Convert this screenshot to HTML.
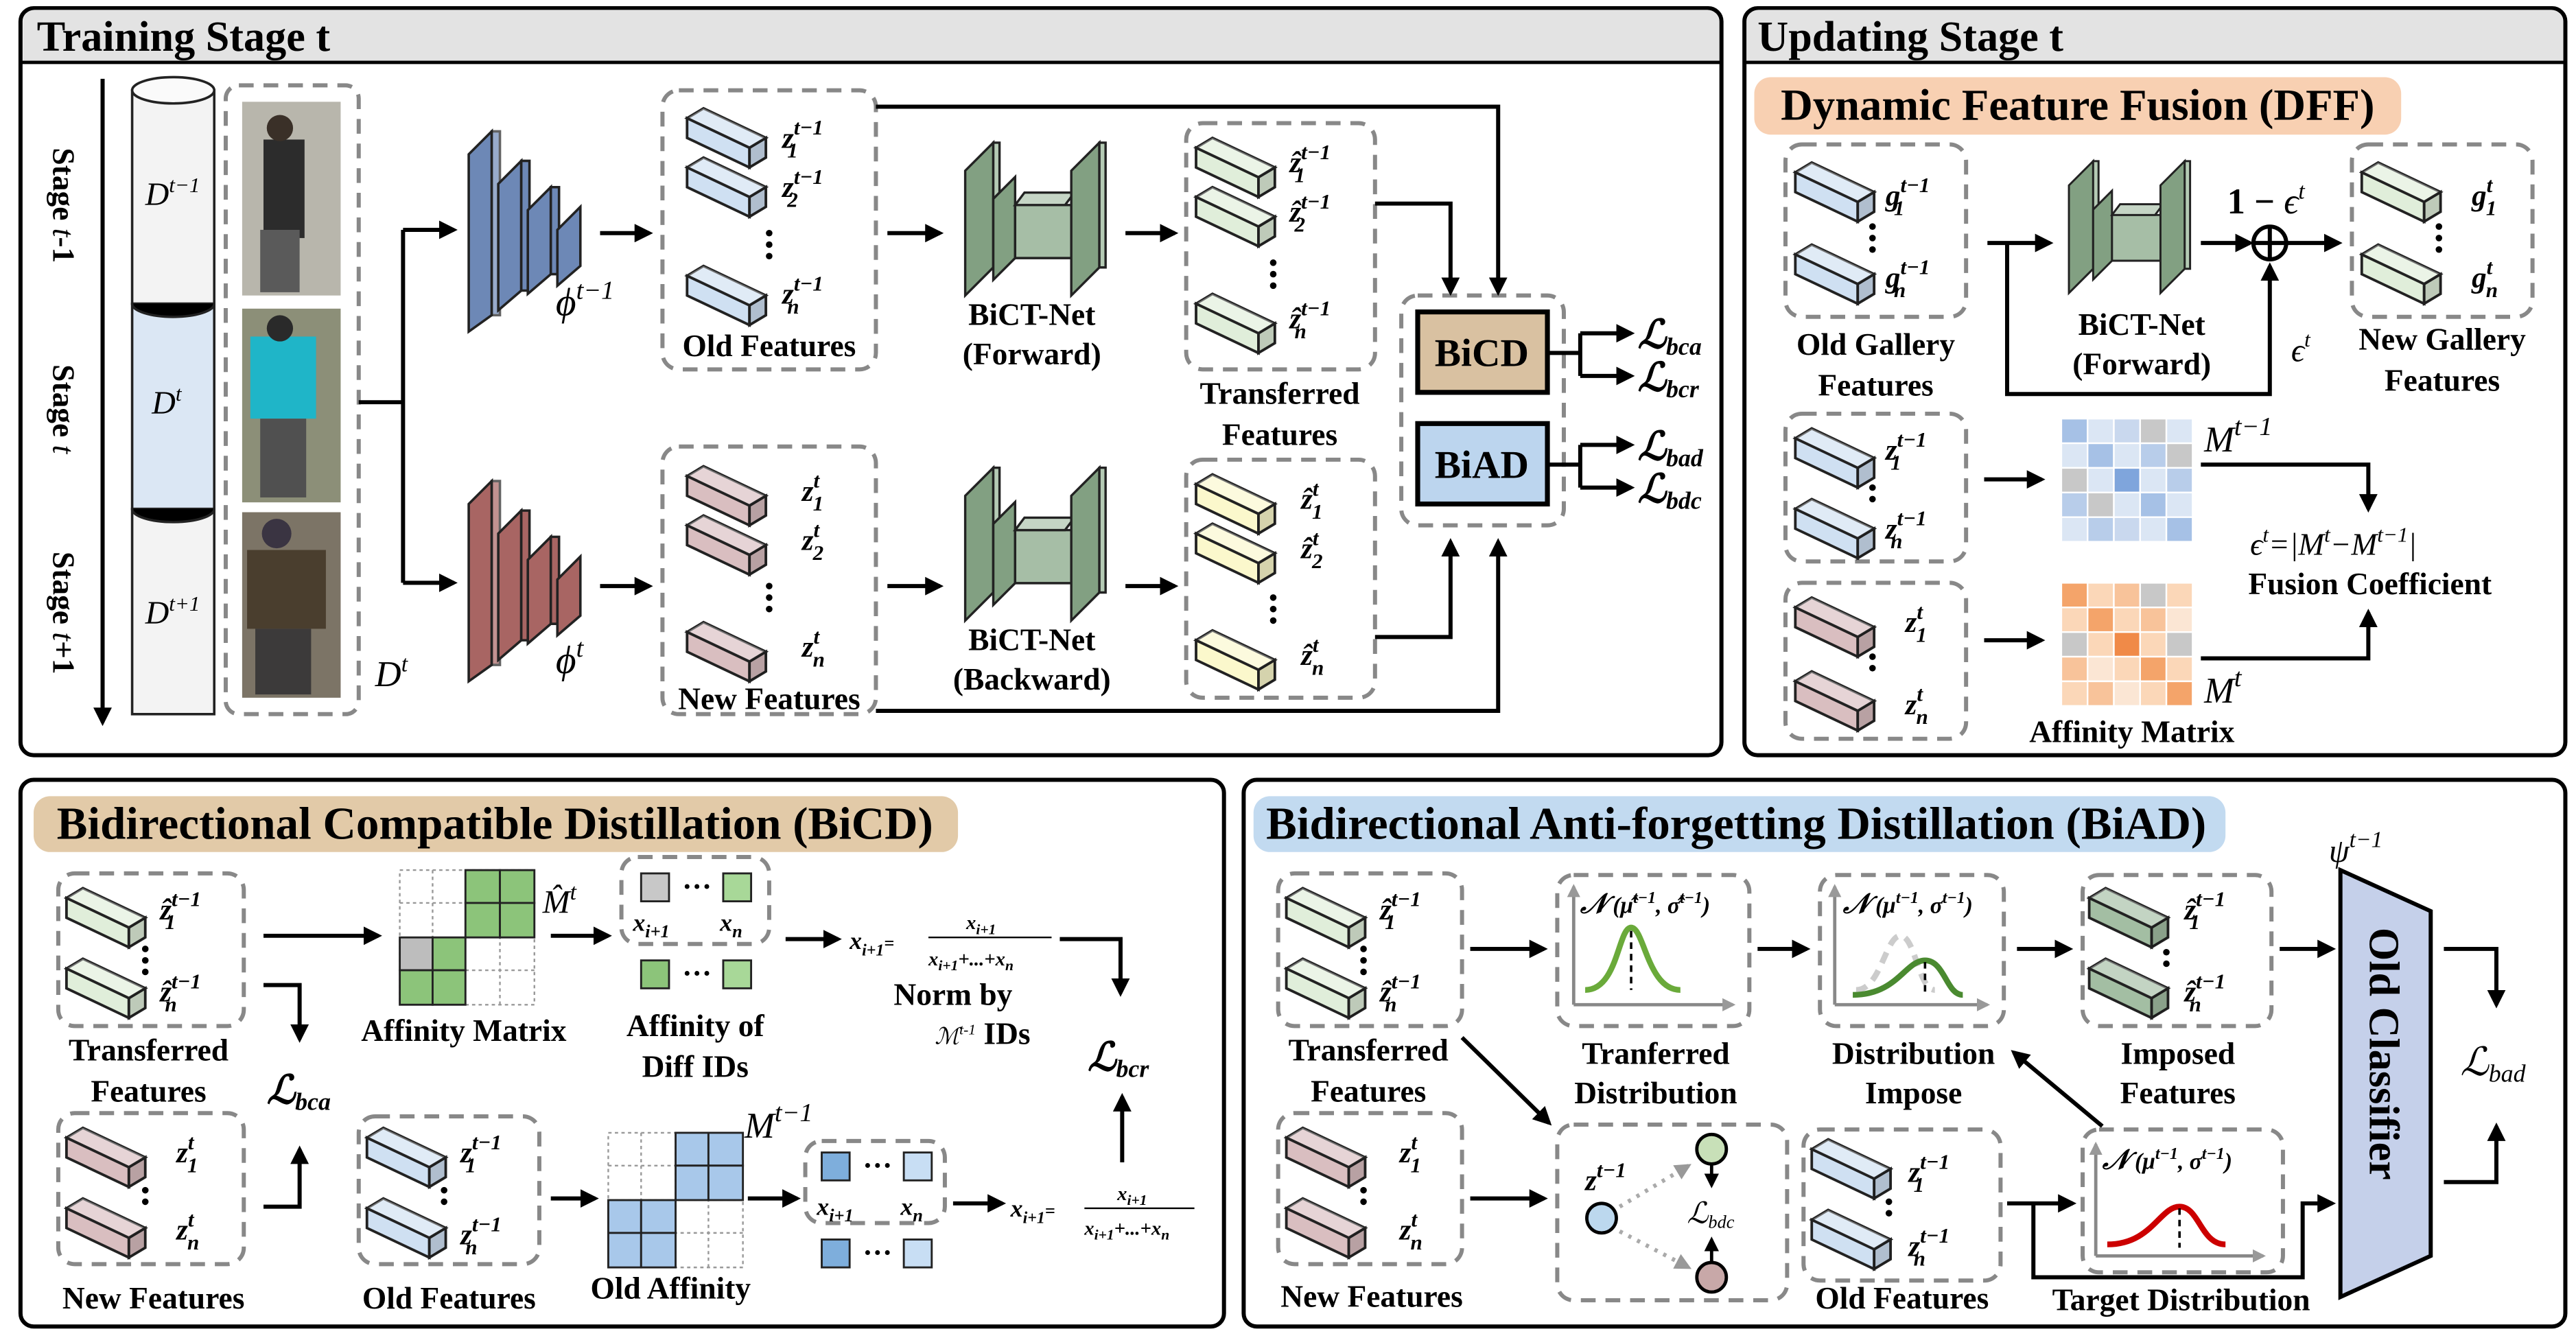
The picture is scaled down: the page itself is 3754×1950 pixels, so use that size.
<!DOCTYPE html>
<html><head><meta charset="utf-8"><style>
html,body{margin:0;padding:0;background:#fff}
svg{display:block}
text{font-family:"Liberation Serif",serif;font-weight:bold;fill:#000}
.m{font-style:italic;font-weight:normal}
.t{font-size:19px}
.h{font-size:25px}
</style></head><body>
<svg width="3754" height="1950" viewBox="0 0 1568 815" xmlns="http://www.w3.org/2000/svg">
<defs>
<marker id="a" viewBox="0 0 10 10" refX="8" refY="5" markerWidth="4.5" markerHeight="4.5" orient="auto"><path d="M0 0L10 5L0 10z" fill="#000"/></marker>
<marker id="g" viewBox="0 0 10 10" refX="8" refY="5" markerWidth="4" markerHeight="4" orient="auto"><path d="M0 0L10 5L0 10z" fill="#999"/></marker>
<symbol id="cb" viewBox="0 0 50 42" overflow="visible">
<path d="M0 10L10 4L48 22L38 28z" fill="currentColor" stroke="#222" stroke-width="1.6"/>
<path d="M0 10L10 4L48 22L38 28z" fill="#fff" opacity=".35"/>
<path d="M0 10L38 28L38 40L0 22z" fill="currentColor" stroke="#222" stroke-width="1.6"/>
<path d="M38 28L48 22L48 34L38 40z" fill="currentColor" stroke="#222" stroke-width="1.6"/>
<path d="M38 28L48 22L48 34L38 40z" fill="#000" opacity=".15"/>
</symbol>
<symbol id="enc" viewBox="0 0 80 130" overflow="visible">
<g stroke="#222" stroke-width="1.5" fill="currentColor">
<path d="M2 22L16 8V120L2 130z"/><path d="M16 8h5V120h-5z" opacity=".7"/>
<path d="M20 40L34 26V105L20 117z"/><path d="M34 26h5V105h-5z"/>
<path d="M38 56L52 42V95L38 107z"/><path d="M52 42h5V95h-5z"/>
<path d="M56 68L70 54V90L56 102z"/>
</g></symbol>
<symbol id="bict" viewBox="0 0 100 100" overflow="visible">
<g stroke="#222" stroke-width="1.5" fill="#82a082">
<path d="M2 20L20 2V82L2 100z"/><path d="M20 2h4V82h-4z" fill="#b5cbb5"/>
<path d="M20 38L34 24V76L20 90z"/>
<path d="M34 42h38v34H34z" fill="#a6bea6"/><path d="M34 42l6-8h32l-6 8z" fill="#c5d5c5"/>
<path d="M70 20L88 2V82L70 100z"/><path d="M88 2h4V82h-4z" fill="#b5cbb5"/>
</g></symbol>
</defs>
<rect width="1568" height="815" fill="#fff"/>

<!-- Panel frames -->
<g stroke="#000" stroke-width="2.5" fill="#fff">
<rect x="12" y="5" width="1036" height="455" rx="8"/>
<rect x="1062" y="5" width="500" height="455" rx="8"/>
<rect x="12" y="475" width="733" height="333" rx="8"/>
<rect x="757" y="475" width="805" height="333" rx="8"/>
</g>
<path d="M13.5 38V13a7 7 0 0 1 7-7H1039.5a7 7 0 0 1 7 7V38z" fill="#e3e3e3"/>
<path d="M1063.5 38V13a7 7 0 0 1 7-7H1553.5a7 7 0 0 1 7 7V38z" fill="#e3e3e3"/>
<line x1="13" y1="38" x2="1047" y2="38" stroke="#000" stroke-width="2"/>
<line x1="1063" y1="38" x2="1561" y2="38" stroke="#000" stroke-width="2"/>
<text x="22" y="31" font-size="26">Training Stage t</text>
<text x="1070" y="31" font-size="26">Updating Stage t</text>

<!-- ===== Training stage ===== -->
<line x1="62" y1="48" x2="62" y2="440" stroke="#000" stroke-width="2.5" marker-end="url(#a)"/>
<text class="t" transform="translate(32,90) rotate(90)">Stage <tspan class="m" font-weight="bold">t</tspan>-1</text>
<text class="t" transform="translate(32,222) rotate(90)">Stage <tspan class="m" font-weight="bold">t</tspan></text>
<text class="t" transform="translate(32,336) rotate(90)">Stage <tspan class="m" font-weight="bold">t</tspan>+1</text>
<g stroke="#222" stroke-width="1.5">
<rect x="80" y="55" width="50" height="130" fill="#f3f3f3"/>
<rect x="80" y="185" width="50" height="125" fill="#dbe7f4"/>
<rect x="80" y="310" width="50" height="125" fill="#f3f3f3"/>
<ellipse cx="105" cy="55" rx="25" ry="8" fill="#fafafa"/>
<path d="M80 185a25 8 0 0 0 50 0M80 310a25 8 0 0 0 50 0"/>
</g>
<text x="88" y="125" class="m" font-size="20">D<tspan font-size="13" dy="-8">t−1</tspan></text>
<text x="92" y="252" class="m" font-size="20">D<tspan font-size="13" dy="-8">t</tspan></text>
<text x="88" y="380" class="m" font-size="20">D<tspan font-size="13" dy="-8">t+1</tspan></text>
<rect x="137" y="52" width="81" height="383" rx="8" fill="none" stroke="#888" stroke-width="2.5" stroke-dasharray="9 6"/>
<rect x="147" y="62" width="60" height="118" fill="#b8b6ac"/><rect x="160" y="85" width="25" height="60" fill="#2c2c2c"/><circle cx="170" cy="78" r="8" fill="#3a3028"/><rect x="158" y="140" width="24" height="38" fill="#5a5a5a"/>
<rect x="147" y="188" width="60" height="118" fill="#8c8f78"/><rect x="152" y="205" width="40" height="50" fill="#1fb5c8"/><circle cx="170" cy="200" r="8" fill="#2a2a2a"/><rect x="158" y="255" width="28" height="48" fill="#505050"/>
<rect x="147" y="312" width="60" height="113" fill="#7c7466"/><rect x="150" y="335" width="48" height="48" fill="#4a3e2e"/><circle cx="168" cy="325" r="9" fill="#3a3442"/><rect x="155" y="383" width="34" height="40" fill="#3c3a3a"/>
<text x="228" y="418" class="m" font-size="22">D<tspan font-size="14" dy="-9">t</tspan></text>

<path d="M218 245H245M245 140V355" stroke="#000" stroke-width="2.5" fill="none"/>
<line x1="245" y1="140" x2="276" y2="140" stroke="#000" stroke-width="2.5" marker-end="url(#a)"/>
<line x1="245" y1="355" x2="276" y2="355" stroke="#000" stroke-width="2.5" marker-end="url(#a)"/>
<use href="#enc" x="283" y="72" width="80" height="130" color="#6d88b6"/>
<use href="#enc" x="283" y="285" width="80" height="130" color="#a86563"/>
<text x="338" y="192" class="m" font-size="24" font-weight="bold">ϕ<tspan font-size="16" dy="-10" font-weight="normal">t−1</tspan></text>
<text x="338" y="410" class="m" font-size="24" font-weight="bold">ϕ<tspan font-size="16" dy="-10" font-weight="normal">t</tspan></text>
<g stroke="#000" stroke-width="2.5" marker-end="url(#a)">
<line x1="365" y1="142" x2="395" y2="142"/><line x1="365" y1="357" x2="395" y2="357"/>
<line x1="540" y1="142" x2="572" y2="142"/><line x1="540" y1="357" x2="572" y2="357"/>
<line x1="685" y1="142" x2="715" y2="142"/><line x1="685" y1="357" x2="715" y2="357"/>
</g>
<g fill="none" stroke="#888" stroke-width="2.5" stroke-dasharray="9 6">
<rect x="403" y="55" width="130" height="170" rx="10"/>
<rect x="403" y="272" width="130" height="163" rx="10"/>
<rect x="722" y="75" width="115" height="150" rx="10"/>
<rect x="722" y="280" width="115" height="145" rx="10"/>
<rect x="853" y="180" width="99" height="140" rx="10"/>
</g>
<g>
<use href="#cb" x="418" y="62" width="50" height="42" color="#cfe0f2"/>
<use href="#cb" x="418" y="92" width="50" height="42" color="#cfe0f2"/>
<use href="#cb" x="418" y="158" width="50" height="42" color="#cfe0f2"/>
<use href="#cb" x="418" y="280" width="50" height="42" color="#d9bec0"/>
<use href="#cb" x="418" y="310" width="50" height="42" color="#d9bec0"/>
<use href="#cb" x="418" y="375" width="50" height="42" color="#d9bec0"/>
<use href="#cb" x="728" y="80" width="50" height="42" color="#e0eeda"/>
<use href="#cb" x="728" y="110" width="50" height="42" color="#e0eeda"/>
<use href="#cb" x="728" y="175" width="50" height="42" color="#e0eeda"/>
<use href="#cb" x="728" y="285" width="50" height="42" color="#fbf8cc"/>
<use href="#cb" x="728" y="315" width="50" height="42" color="#fbf8cc"/>
<use href="#cb" x="728" y="380" width="50" height="42" color="#fbf8cc"/>
</g>
<g class="m" font-size="18">
<text x="476" y="90">z<tspan font-size="13" dy="-8">t−1</tspan><tspan font-size="13" dx="-22" dy="14">1</tspan></text>
<text x="476" y="120">z<tspan font-size="13" dy="-8">t−1</tspan><tspan font-size="13" dx="-22" dy="14">2</tspan></text>
<text x="476" y="185">z<tspan font-size="13" dy="-8">t−1</tspan><tspan font-size="13" dx="-22" dy="14">n</tspan></text>
<text x="488" y="305">z<tspan font-size="13" dy="-8">t</tspan><tspan font-size="13" dx="-4" dy="14">1</tspan></text>
<text x="488" y="335">z<tspan font-size="13" dy="-8">t</tspan><tspan font-size="13" dx="-4" dy="14">2</tspan></text>
<text x="488" y="400">z<tspan font-size="13" dy="-8">t</tspan><tspan font-size="13" dx="-4" dy="14">n</tspan></text>
<text x="785" y="105">ẑ<tspan font-size="13" dy="-8">t−1</tspan><tspan font-size="13" dx="-22" dy="14">1</tspan></text>
<text x="785" y="135">ẑ<tspan font-size="13" dy="-8">t−1</tspan><tspan font-size="13" dx="-22" dy="14">2</tspan></text>
<text x="785" y="200">ẑ<tspan font-size="13" dy="-8">t−1</tspan><tspan font-size="13" dx="-22" dy="14">n</tspan></text>
<text x="792" y="310">ẑ<tspan font-size="13" dy="-8">t</tspan><tspan font-size="13" dx="-4" dy="14">1</tspan></text>
<text x="792" y="340">ẑ<tspan font-size="13" dy="-8">t</tspan><tspan font-size="13" dx="-4" dy="14">2</tspan></text>
<text x="792" y="405">ẑ<tspan font-size="13" dy="-8">t</tspan><tspan font-size="13" dx="-4" dy="14">n</tspan></text>
</g>
<g fill="#000"><circle cx="468" cy="142" r="2"/><circle cx="468" cy="149" r="2"/><circle cx="468" cy="156" r="2"/>
<circle cx="468" cy="357" r="2"/><circle cx="468" cy="364" r="2"/><circle cx="468" cy="371" r="2"/>
<circle cx="775" cy="160" r="2"/><circle cx="775" cy="167" r="2"/><circle cx="775" cy="174" r="2"/>
<circle cx="775" cy="364" r="2"/><circle cx="775" cy="371" r="2"/><circle cx="775" cy="378" r="2"/></g>
<text x="468" y="217" class="t" text-anchor="middle">Old Features</text>
<text x="468" y="432" class="t" text-anchor="middle">New Features</text>
<use href="#bict" x="583" y="85" width="100" height="95"/>
<use href="#bict" x="583" y="283" width="100" height="95"/>
<g class="t" text-anchor="middle">
<text x="628" y="198">BiCT-Net</text><text x="628" y="222">(Forward)</text>
<text x="628" y="396">BiCT-Net</text><text x="628" y="420">(Backward)</text>
<text x="779" y="246">Transferred</text><text x="779" y="271">Features</text>
</g>
<g stroke="#000" stroke-width="2.5" fill="none">
<path d="M533 65H912V178" marker-end="url(#a)"/>
<path d="M837 124H883V178" marker-end="url(#a)"/>
<path d="M837 388H883V330" marker-end="url(#a)"/>
<path d="M533 433H912V330" marker-end="url(#a)"/>
</g>
<rect x="863" y="190" width="79" height="49" fill="#d9c1a1" stroke="#000" stroke-width="3"/>
<rect x="863" y="258" width="79" height="49" fill="#bcd5ee" stroke="#000" stroke-width="3"/>
<text x="902" y="223" font-size="24" text-anchor="middle">BiCD</text>
<text x="902" y="291" font-size="24" text-anchor="middle">BiAD</text>
<g stroke="#000" stroke-width="2.5" fill="none">
<path d="M942 215H962"/><path d="M962 203V229"/>
<path d="M962 203H993" marker-end="url(#a)"/><path d="M962 229H993" marker-end="url(#a)"/>
<path d="M942 283H962"/><path d="M962 271V297"/>
<path d="M962 271H993" marker-end="url(#a)"/><path d="M962 297H993" marker-end="url(#a)"/>
</g>
<g class="m" font-size="24" font-weight="bold">
<text x="997" y="212">ℒ<tspan font-size="15" dy="4">bca</tspan></text>
<text x="997" y="238">ℒ<tspan font-size="15" dy="4">bcr</tspan></text>
<text x="997" y="280">ℒ<tspan font-size="15" dy="4">bad</tspan></text>
<text x="997" y="306">ℒ<tspan font-size="15" dy="4">bdc</tspan></text>
</g>

<!-- ===== Updating stage ===== -->
<rect x="1068" y="47" width="394" height="35" rx="10" fill="#f8d0b2"/>
<text x="1265" y="73" font-size="27" text-anchor="middle">Dynamic Feature Fusion (DFF)</text>
<g fill="none" stroke="#888" stroke-width="2.5" stroke-dasharray="9 6">
<rect x="1087" y="88" width="110" height="105" rx="10"/>
<rect x="1432" y="88" width="110" height="105" rx="10"/>
<rect x="1087" y="252" width="110" height="90" rx="10"/>
<rect x="1087" y="355" width="110" height="95" rx="10"/>
</g>
<use href="#cb" x="1093" y="95" width="50" height="42" color="#cfe0f2"/>
<use href="#cb" x="1093" y="145" width="50" height="42" color="#cfe0f2"/>
<use href="#cb" x="1438" y="95" width="50" height="42" color="#e0eeda"/>
<use href="#cb" x="1438" y="145" width="50" height="42" color="#e0eeda"/>
<use href="#cb" x="1093" y="257" width="50" height="42" color="#cfe0f2"/>
<use href="#cb" x="1093" y="300" width="50" height="42" color="#cfe0f2"/>
<use href="#cb" x="1093" y="360" width="50" height="42" color="#d9bec0"/>
<use href="#cb" x="1093" y="405" width="50" height="42" color="#d9bec0"/>
<g fill="#000"><circle cx="1140" cy="138" r="2"/><circle cx="1140" cy="145" r="2"/><circle cx="1140" cy="152" r="2"/>
<circle cx="1485" cy="138" r="2"/><circle cx="1485" cy="145" r="2"/><circle cx="1485" cy="152" r="2"/>
<circle cx="1140" cy="297" r="2"/><circle cx="1140" cy="304" r="2"/>
<circle cx="1140" cy="400" r="2"/><circle cx="1140" cy="407" r="2"/></g>
<g class="m" font-size="18">
<text x="1148" y="125">g<tspan font-size="13" dy="-8">t−1</tspan><tspan font-size="13" dx="-22" dy="14">1</tspan></text>
<text x="1148" y="175">g<tspan font-size="13" dy="-8">t−1</tspan><tspan font-size="13" dx="-22" dy="14">n</tspan></text>
<text x="1505" y="125">g<tspan font-size="13" dy="-8">t</tspan><tspan font-size="13" dx="-4" dy="14">1</tspan></text>
<text x="1505" y="175">g<tspan font-size="13" dy="-8">t</tspan><tspan font-size="13" dx="-4" dy="14">n</tspan></text>
<text x="1148" y="280">z<tspan font-size="13" dy="-8">t−1</tspan><tspan font-size="13" dx="-22" dy="14">1</tspan></text>
<text x="1148" y="328">z<tspan font-size="13" dy="-8">t−1</tspan><tspan font-size="13" dx="-22" dy="14">n</tspan></text>
<text x="1160" y="385">z<tspan font-size="13" dy="-8">t</tspan><tspan font-size="13" dx="-4" dy="14">1</tspan></text>
<text x="1160" y="435">z<tspan font-size="13" dy="-8">t</tspan><tspan font-size="13" dx="-4" dy="14">n</tspan></text>
</g>
<g class="t" text-anchor="middle">
<text x="1142" y="216">Old Gallery</text><text x="1142" y="241">Features</text>
<text x="1304" y="204">BiCT-Net</text><text x="1304" y="228">(Forward)</text>
<text x="1487" y="213">New Gallery</text><text x="1487" y="238">Features</text>
<text x="1443" y="362">Fusion Coefficient</text>
<text x="1298" y="452">Affinity Matrix</text>
</g>
<use href="#bict" x="1258" y="90" width="82" height="95"/>
<g stroke="#000" stroke-width="2.5" fill="none">
<path d="M1210 148H1248" marker-end="url(#a)"/>
<path d="M1222 148V240H1382V162" marker-end="url(#a)"/>
<path d="M1340 148H1370" marker-end="url(#a)"/>
<path d="M1393 148H1424" marker-end="url(#a)"/>
<circle cx="1382" cy="148" r="10"/><path d="M1372 148h20M1382 138v20"/>
<path d="M1208 292H1243" marker-end="url(#a)"/>
<path d="M1208 390H1243" marker-end="url(#a)"/>
<path d="M1340 283H1442V310" marker-end="url(#a)"/>
<path d="M1340 401H1442V373" marker-end="url(#a)"/>
</g>
<text x="1356" y="130" font-size="22" font-weight="normal">1 − <tspan class="m">ϵ</tspan><tspan class="m" font-size="14" dy="-9">t</tspan></text>
<text x="1395" y="220" class="m" font-size="20">ϵ<tspan font-size="13" dy="-9">t</tspan></text>
<text x="1342" y="275" class="m" font-size="22">M<tspan font-size="16" dy="-10">t−1</tspan></text>
<text x="1342" y="428" class="m" font-size="22">M<tspan font-size="16" dy="-10">t</tspan></text>
<text x="1370" y="338" class="m" font-size="19">ϵ<tspan font-size="13" dy="-8">t</tspan><tspan dy="8">=|M</tspan><tspan font-size="13" dy="-8">t</tspan><tspan dy="8">−M</tspan><tspan font-size="13" dy="-8">t−1</tspan><tspan dy="8">|</tspan></text>
<g stroke="#fff" stroke-width="1">
<rect x="1255" y="255" width="16" height="15" fill="#a6c1e6"/><rect x="1271" y="255" width="16" height="15" fill="#dbe6f4"/><rect x="1287" y="255" width="16" height="15" fill="#c9d8ee"/><rect x="1303" y="255" width="16" height="15" fill="#c8c8c8"/><rect x="1319" y="255" width="16" height="15" fill="#dbe6f4"/>
<rect x="1255" y="270" width="16" height="15" fill="#dbe6f4"/><rect x="1271" y="270" width="16" height="15" fill="#a6c1e6"/><rect x="1287" y="270" width="16" height="15" fill="#dbe6f4"/><rect x="1303" y="270" width="16" height="15" fill="#b8cdea"/><rect x="1319" y="270" width="16" height="15" fill="#c8c8c8"/>
<rect x="1255" y="285" width="16" height="15" fill="#c8c8c8"/><rect x="1271" y="285" width="16" height="15" fill="#dbe6f4"/><rect x="1287" y="285" width="16" height="15" fill="#7fa5dc"/><rect x="1303" y="285" width="16" height="15" fill="#dbe6f4"/><rect x="1319" y="285" width="16" height="15" fill="#b8cdea"/>
<rect x="1255" y="300" width="16" height="15" fill="#b8cdea"/><rect x="1271" y="300" width="16" height="15" fill="#c8c8c8"/><rect x="1287" y="300" width="16" height="15" fill="#dbe6f4"/><rect x="1303" y="300" width="16" height="15" fill="#a6c1e6"/><rect x="1319" y="300" width="16" height="15" fill="#dbe6f4"/>
<rect x="1255" y="315" width="16" height="15" fill="#dbe6f4"/><rect x="1271" y="315" width="16" height="15" fill="#b8cdea"/><rect x="1287" y="315" width="16" height="15" fill="#c9d8ee"/><rect x="1303" y="315" width="16" height="15" fill="#dbe6f4"/><rect x="1319" y="315" width="16" height="15" fill="#a6c1e6"/>
<rect x="1255" y="355" width="16" height="15" fill="#f4a46a"/><rect x="1271" y="355" width="16" height="15" fill="#fbd7b8"/><rect x="1287" y="355" width="16" height="15" fill="#f8c39a"/><rect x="1303" y="355" width="16" height="15" fill="#c8c8c8"/><rect x="1319" y="355" width="16" height="15" fill="#fbd7b8"/>
<rect x="1255" y="370" width="16" height="15" fill="#fbd7b8"/><rect x="1271" y="370" width="16" height="15" fill="#f4a46a"/><rect x="1287" y="370" width="16" height="15" fill="#fbd7b8"/><rect x="1303" y="370" width="16" height="15" fill="#f8c39a"/><rect x="1319" y="370" width="16" height="15" fill="#fbe6d4"/>
<rect x="1255" y="385" width="16" height="15" fill="#c8c8c8"/><rect x="1271" y="385" width="16" height="15" fill="#fbd7b8"/><rect x="1287" y="385" width="16" height="15" fill="#f08a48"/><rect x="1303" y="385" width="16" height="15" fill="#fbd7b8"/><rect x="1319" y="385" width="16" height="15" fill="#c8c8c8"/>
<rect x="1255" y="400" width="16" height="15" fill="#f8c39a"/><rect x="1271" y="400" width="16" height="15" fill="#fbe6d4"/><rect x="1287" y="400" width="16" height="15" fill="#fbd7b8"/><rect x="1303" y="400" width="16" height="15" fill="#f4a46a"/><rect x="1319" y="400" width="16" height="15" fill="#fbd7b8"/>
<rect x="1255" y="415" width="16" height="15" fill="#fbd7b8"/><rect x="1271" y="415" width="16" height="15" fill="#f8c39a"/><rect x="1287" y="415" width="16" height="15" fill="#fbe6d4"/><rect x="1303" y="415" width="16" height="15" fill="#fbd7b8"/><rect x="1319" y="415" width="16" height="15" fill="#f4a46a"/>
</g>

<!-- ===== BiCD ===== -->
<rect x="20" y="485" width="563" height="34" rx="10" fill="#e2caa8"/>
<text x="301" y="511" font-size="28" text-anchor="middle">Bidirectional Compatible Distillation (BiCD)</text>
<g fill="none" stroke="#888" stroke-width="2.5" stroke-dasharray="9 6">
<rect x="35" y="532" width="113" height="93" rx="10"/>
<rect x="35" y="678" width="113" height="92" rx="10"/>
<rect x="218" y="680" width="110" height="90" rx="10"/>
<rect x="378" y="522" width="90" height="53" rx="10"/>
<rect x="490" y="695" width="85" height="50" rx="10"/>
</g>
<use href="#cb" x="40" y="537" width="50" height="42" color="#e0eeda"/>
<use href="#cb" x="40" y="580" width="50" height="42" color="#e0eeda"/>
<use href="#cb" x="40" y="683" width="50" height="42" color="#d9bec0"/>
<use href="#cb" x="40" y="726" width="50" height="42" color="#d9bec0"/>
<use href="#cb" x="223" y="683" width="50" height="42" color="#cfe0f2"/>
<use href="#cb" x="223" y="726" width="50" height="42" color="#cfe0f2"/>
<g fill="#000"><circle cx="88" cy="578" r="2"/><circle cx="88" cy="585" r="2"/><circle cx="88" cy="592" r="2"/>
<circle cx="88" cy="725" r="2"/><circle cx="88" cy="732" r="2"/>
<circle cx="270" cy="725" r="2"/><circle cx="270" cy="732" r="2"/></g>
<g class="m" font-size="18">
<text x="97" y="560">ẑ<tspan font-size="13" dy="-8">t−1</tspan><tspan font-size="13" dx="-22" dy="14">1</tspan></text>
<text x="97" y="610">ẑ<tspan font-size="13" dy="-8">t−1</tspan><tspan font-size="13" dx="-22" dy="14">n</tspan></text>
<text x="107" y="708">z<tspan font-size="13" dy="-8">t</tspan><tspan font-size="13" dx="-4" dy="14">1</tspan></text>
<text x="107" y="755">z<tspan font-size="13" dy="-8">t</tspan><tspan font-size="13" dx="-4" dy="14">n</tspan></text>
<text x="280" y="708">z<tspan font-size="13" dy="-8">t−1</tspan><tspan font-size="13" dx="-22" dy="14">1</tspan></text>
<text x="280" y="758">z<tspan font-size="13" dy="-8">t−1</tspan><tspan font-size="13" dx="-22" dy="14">n</tspan></text>
</g>
<g class="t" text-anchor="middle">
<text x="90" y="646">Transferred</text><text x="90" y="671">Features</text>
<text x="93" y="797">New Features</text><text x="273" y="797">Old Features</text>
<text x="282" y="634">Affinity Matrix</text>
<text x="423" y="631">Affinity of</text><text x="423" y="656">Diff IDs</text>
<text x="580" y="612">Norm by</text><text x="598" y="636"><tspan class="m" font-weight="normal" font-size="14">ℳ</tspan><tspan class="m" font-weight="normal" font-size="9" dy="-6">t-1</tspan><tspan dy="6"> IDs</tspan></text>
<text x="408" y="791">Old Affinity</text>
</g>
<g class="m" font-size="24" font-weight="bold">
<text x="162" y="672">ℒ<tspan font-size="15" dy="4">bca</tspan></text>
<text x="662" y="652">ℒ<tspan font-size="15" dy="4">bcr</tspan></text>
</g>
<g stroke="#000" stroke-width="2.5" fill="none">
<path d="M160 570H230" marker-end="url(#a)"/>
<path d="M160 600H182V633" marker-end="url(#a)"/>
<path d="M160 735H182V700" marker-end="url(#a)"/>
<path d="M335 570H370" marker-end="url(#a)"/>
<path d="M478 572H510" marker-end="url(#a)"/>
<path d="M645 572H682V605" marker-end="url(#a)"/>
<path d="M683 708V668" marker-end="url(#a)"/>
<path d="M335 730H362" marker-end="url(#a)"/>
<path d="M455 730H485" marker-end="url(#a)"/>
<path d="M580 733H610" marker-end="url(#a)"/>
</g>
<g stroke="#999" stroke-width="1" stroke-dasharray="2 2" fill="none">
<path d="M243 530h82v82h-82zM263 530v82M283 530v82M304 530v82M243 550h82M243 571h82M243 591h82"/>
<path d="M370 690h82v82h-82zM390 690v82M411 690v82M431 690v82M370 710h82M370 731h82M370 751h82"/>
</g>
<g stroke="#222" stroke-width="1.2">
<rect x="283" y="530" width="21" height="20" fill="#8cc47a"/><rect x="304" y="530" width="21" height="20" fill="#8cc47a"/>
<rect x="283" y="550" width="21" height="21" fill="#8cc47a"/><rect x="304" y="550" width="21" height="21" fill="#8cc47a"/>
<rect x="243" y="571" width="20" height="20" fill="#bdbdbd"/><rect x="263" y="571" width="20" height="20" fill="#8cc47a"/>
<rect x="243" y="591" width="20" height="21" fill="#8cc47a"/><rect x="263" y="591" width="20" height="21" fill="#8cc47a"/>
<rect x="411" y="690" width="20" height="20" fill="#a8c8ea"/><rect x="431" y="690" width="21" height="20" fill="#a8c8ea"/>
<rect x="411" y="710" width="20" height="21" fill="#a8c8ea"/><rect x="431" y="710" width="21" height="21" fill="#a8c8ea"/>
<rect x="370" y="731" width="20" height="20" fill="#a8c8ea"/><rect x="390" y="731" width="21" height="20" fill="#a8c8ea"/>
<rect x="370" y="751" width="20" height="21" fill="#a8c8ea"/><rect x="390" y="751" width="21" height="21" fill="#a8c8ea"/>
<rect x="390" y="532" width="17" height="17" fill="#c8c8c8"/><rect x="440" y="532" width="17" height="17" fill="#a8d898"/>
<rect x="390" y="585" width="17" height="17" fill="#8cc47a"/><rect x="440" y="585" width="17" height="17" fill="#a8d898"/>
<rect x="500" y="702" width="17" height="17" fill="#7eaedc"/><rect x="550" y="702" width="17" height="17" fill="#c8def4"/>
<rect x="500" y="755" width="17" height="17" fill="#7eaedc"/><rect x="550" y="755" width="17" height="17" fill="#c8def4"/>
</g>
<g font-size="18"><text x="415" y="546">···</text><text x="415" y="599">···</text><text x="525" y="716">···</text><text x="525" y="769">···</text></g>
<g class="m" font-size="15">
<text x="385" y="567">x<tspan font-size="11" dy="4">i+1</tspan></text><text x="438" y="567">x<tspan font-size="11" dy="4">n</tspan></text>
<text x="497" y="740">x<tspan font-size="11" dy="4">i+1</tspan></text><text x="548" y="740">x<tspan font-size="11" dy="4">n</tspan></text>
</g>
<text x="330" y="556" class="m" font-size="20">M̂<tspan font-size="14" dy="-8">t</tspan></text>
<text x="453" y="693" class="m" font-size="22">M<tspan font-size="16" dy="-10">t−1</tspan></text>
<g class="m" font-size="15">
<text x="517" y="578">x<tspan font-size="10" dy="4">i+1</tspan><tspan dy="-4" font-size="11">=</tspan></text>
<text x="588" y="566" font-size="12">x<tspan font-size="9" dy="3">i+1</tspan></text>
<line x1="565" y1="571" x2="640" y2="571" stroke="#000" stroke-width="1"/>
<text x="565" y="588" font-size="12">x<tspan font-size="9" dy="3">i+1</tspan><tspan dy="-3">+...+x</tspan><tspan font-size="9" dy="3">n</tspan></text>
<text x="615" y="741">x<tspan font-size="10" dy="4">i+1</tspan><tspan dy="-4" font-size="11">=</tspan></text>
<text x="680" y="731" font-size="12">x<tspan font-size="9" dy="3">i+1</tspan></text>
<line x1="660" y1="736" x2="727" y2="736" stroke="#000" stroke-width="1"/>
<text x="660" y="752" font-size="12">x<tspan font-size="9" dy="3">i+1</tspan><tspan dy="-3">+...+x</tspan><tspan font-size="9" dy="3">n</tspan></text>
</g>

<!-- ===== BiAD ===== -->
<rect x="763" y="485" width="592" height="34" rx="10" fill="#c2daf0"/>
<text x="1057" y="511" font-size="28" text-anchor="middle">Bidirectional Anti-forgetting Distillation (BiAD)</text>
<g fill="none" stroke="#888" stroke-width="2.5" stroke-dasharray="9 6">
<rect x="778" y="532" width="112" height="93" rx="10"/>
<rect x="778" y="678" width="112" height="92" rx="10"/>
<rect x="948" y="533" width="117" height="92" rx="10"/>
<rect x="1108" y="533" width="112" height="92" rx="10"/>
<rect x="1268" y="533" width="115" height="92" rx="10"/>
<rect x="948" y="685" width="140" height="107" rx="10"/>
<rect x="1098" y="688" width="120" height="92" rx="10"/>
<rect x="1268" y="688" width="122" height="87" rx="10"/>
</g>
<use href="#cb" x="783" y="537" width="50" height="42" color="#e0eeda"/>
<use href="#cb" x="783" y="580" width="50" height="42" color="#e0eeda"/>
<use href="#cb" x="783" y="683" width="50" height="42" color="#d9bec0"/>
<use href="#cb" x="783" y="726" width="50" height="42" color="#d9bec0"/>
<use href="#cb" x="1272" y="537" width="50" height="42" color="#a3bea3"/>
<use href="#cb" x="1272" y="580" width="50" height="42" color="#a3bea3"/>
<use href="#cb" x="1103" y="690" width="50" height="42" color="#cfe0f2"/>
<use href="#cb" x="1103" y="733" width="50" height="42" color="#cfe0f2"/>
<g fill="#000"><circle cx="830" cy="578" r="2"/><circle cx="830" cy="585" r="2"/><circle cx="830" cy="592" r="2"/>
<circle cx="830" cy="725" r="2"/><circle cx="830" cy="732" r="2"/>
<circle cx="1319" cy="580" r="2"/><circle cx="1319" cy="587" r="2"/>
<circle cx="1150" cy="732" r="2"/><circle cx="1150" cy="739" r="2"/></g>
<g class="m" font-size="18">
<text x="840" y="560">ẑ<tspan font-size="13" dy="-8">t−1</tspan><tspan font-size="13" dx="-22" dy="14">1</tspan></text>
<text x="840" y="610">ẑ<tspan font-size="13" dy="-8">t−1</tspan><tspan font-size="13" dx="-22" dy="14">n</tspan></text>
<text x="852" y="708">z<tspan font-size="13" dy="-8">t</tspan><tspan font-size="13" dx="-4" dy="14">1</tspan></text>
<text x="852" y="755">z<tspan font-size="13" dy="-8">t</tspan><tspan font-size="13" dx="-4" dy="14">n</tspan></text>
<text x="1330" y="560">ẑ<tspan font-size="13" dy="-8">t−1</tspan><tspan font-size="13" dx="-22" dy="14">1</tspan></text>
<text x="1330" y="610">ẑ<tspan font-size="13" dy="-8">t−1</tspan><tspan font-size="13" dx="-22" dy="14">n</tspan></text>
<text x="1162" y="720">z<tspan font-size="13" dy="-8">t−1</tspan><tspan font-size="13" dx="-22" dy="14">1</tspan></text>
<text x="1162" y="765">z<tspan font-size="13" dy="-8">t−1</tspan><tspan font-size="13" dx="-22" dy="14">n</tspan></text>
<text x="965" y="725">z<tspan font-size="13" dy="-8">t−1</tspan></text>
</g>
<g class="t" text-anchor="middle">
<text x="833" y="646">Transferred</text><text x="833" y="671">Features</text>
<text x="835" y="796">New Features</text>
<text x="1008" y="648">Tranferred</text><text x="1008" y="672">Distribution</text>
<text x="1165" y="648">Distribution</text><text x="1165" y="672">Impose</text>
<text x="1326" y="648">Imposed</text><text x="1326" y="672">Features</text>
<text x="1158" y="797">Old Features</text>
<text x="1328" y="798">Target Distribution</text>
</g>
<g stroke="#888" stroke-width="2" fill="none">
<path d="M958 612V540" marker-end="url(#g)"/><path d="M958 612H1055" marker-end="url(#g)"/>
<path d="M1117 612V540" marker-end="url(#g)"/><path d="M1117 612H1210" marker-end="url(#g)"/>
<path d="M1276 765V697" marker-end="url(#g)"/><path d="M1276 765H1378" marker-end="url(#g)"/>
</g>
<path d="M965 603C985 603 985 565 993 565S1003 603 1023 603" stroke="#6aaa3a" stroke-width="3.5" fill="none"/>
<line x1="993" y1="567" x2="993" y2="603" stroke="#000" stroke-width="1.5" stroke-dasharray="4 3"/>
<path d="M1130 603C1145 603 1148 570 1157 570S1168 603 1178 603" stroke="#ccc" stroke-width="3.5" fill="none" stroke-dasharray="7 5"/>
<path d="M1128 606C1155 606 1160 585 1172 585S1185 606 1195 606" stroke="#4a8a30" stroke-width="3.5" fill="none"/>
<line x1="1172" y1="586" x2="1172" y2="606" stroke="#000" stroke-width="1.5" stroke-dasharray="4 3"/>
<path d="M1283 758C1310 758 1315 735 1327 735S1340 758 1355 758" stroke="#c00" stroke-width="3.5" fill="none"/>
<line x1="1327" y1="736" x2="1327" y2="760" stroke="#000" stroke-width="1.5" stroke-dasharray="4 3"/>
<g class="m" font-size="14">
<text x="962" y="556"><tspan font-size="17">𝒩</tspan> (μ̂<tspan font-size="10" dy="-6">t−1</tspan><tspan dy="6">, σ̂</tspan><tspan font-size="10" dy="-6">t−1</tspan><tspan dy="6">)</tspan></text>
<text x="1122" y="556"><tspan font-size="17">𝒩</tspan> (μ<tspan font-size="10" dy="-6">t−1</tspan><tspan dy="6">, σ</tspan><tspan font-size="10" dy="-6">t−1</tspan><tspan dy="6">)</tspan></text>
<text x="1280" y="712"><tspan font-size="17">𝒩</tspan> (μ<tspan font-size="10" dy="-6">t−1</tspan><tspan dy="6">, σ</tspan><tspan font-size="10" dy="-6">t−1</tspan><tspan dy="6">)</tspan></text>
</g>
<circle cx="975" cy="742" r="9" fill="#bcd8ee" stroke="#000" stroke-width="2"/>
<circle cx="1042" cy="700" r="9" fill="#c8e0b8" stroke="#000" stroke-width="2"/>
<circle cx="1042" cy="778" r="9" fill="#c8a8a8" stroke="#000" stroke-width="2"/>
<g stroke="#aaa" stroke-width="2.5" stroke-dasharray="2 4" fill="none">
<path d="M986 735L1028 710" marker-end="url(#g)"/><path d="M986 750L1028 772" marker-end="url(#g)"/>
</g>
<g stroke="#000" stroke-width="2" fill="none"><path d="M1042 709V722" marker-end="url(#a)"/><path d="M1042 769V755" marker-end="url(#a)"/></g>
<text x="1027" y="745" class="m" font-size="18" font-weight="bold">ℒ<tspan font-size="11" dy="3">bdc</tspan></text>
<path d="M1425 530L1480 555V765L1425 790z" fill="#c5d0ea" stroke="#000" stroke-width="2.5"/>
<text transform="translate(1443,565) rotate(90)" font-size="26">Old Classifier</text>
<text x="1418" y="525" class="m" font-size="20">ψ<tspan font-size="14" dy="-9">t−1</tspan></text>
<text x="1498" y="655" class="m" font-size="24" font-weight="bold">ℒ<tspan font-size="15" dy="4">bad</tspan></text>
<g stroke="#000" stroke-width="2.5" fill="none">
<path d="M895 578H940" marker-end="url(#a)"/>
<path d="M1070 578H1100" marker-end="url(#a)"/>
<path d="M1228 578H1260" marker-end="url(#a)"/>
<path d="M1388 578H1420" marker-end="url(#a)"/>
<path d="M895 730H940" marker-end="url(#a)"/>
<path d="M890 632L943 684" marker-end="url(#a)"/>
<path d="M1280 686L1226 641" marker-end="url(#a)"/>
<path d="M1222 733H1262" marker-end="url(#a)"/>
<path d="M1238 733V778H1402V733H1420" marker-end="url(#a)"/>
<path d="M1488 578H1520V612" marker-end="url(#a)"/>
<path d="M1488 720H1520V686" marker-end="url(#a)"/>
</g>
</svg>
</body></html>
